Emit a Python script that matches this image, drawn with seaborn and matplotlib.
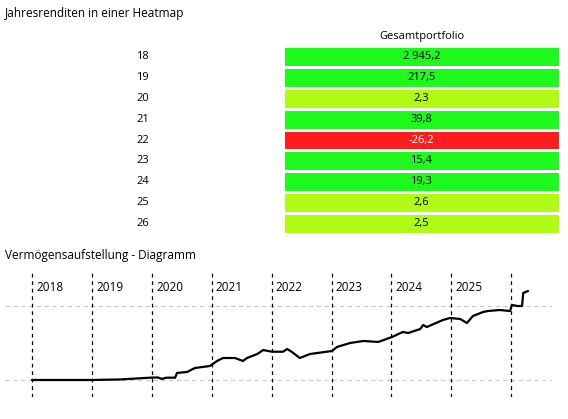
import seaborn as sns
import matplotlib.pyplot as plt
import pandas as pd
import numpy as np
from matplotlib.colors import ListedColormap, BoundaryNorm

# Jahresrenditen (Prozent) pro Jahr
jahre_kurz = ["18", "19", "20", "21", "22", "23", "24", "25", "26"]
renditen = [2945.2, 217.5, 2.3, 39.8, -26.2, 15.4, 19.3, 2.6, 2.5]
renditen_text = ["2 945,2", "217,5", "2,3", "39,8", "-26,2", "15,4", "19,3", "2,6", "2,5"]

# Vermögensverlauf (relative Einheiten)
zeit = [2018.00, 2019.00, 2019.47, 2019.97, 2020.10, 2020.17, 2020.24, 2020.39, 2020.42,
        2020.59, 2020.72, 2020.97, 2021.09, 2021.19, 2021.39, 2021.52, 2021.59, 2021.76,
        2021.86, 2021.94, 2022.01, 2022.19, 2022.26, 2022.34, 2022.47, 2022.64, 2023.01,
        2023.09, 2023.31, 2023.53, 2023.78, 2024.01, 2024.19, 2024.28, 2024.48, 2024.53,
        2024.59, 2024.86, 2024.98, 2025.15, 2025.26, 2025.36, 2025.53, 2025.61, 2025.81,
        2025.98, 2026.01, 2026.10, 2026.18, 2026.20, 2026.28]
vermoegen = [0, 0, 0.7, 3.1, 3.4, 1.4, 3.1, 3.1, 9.5,
             10.8, 16.2, 18.9, 25.7, 29.7, 29.7, 25.7, 29.7, 35.1,
             40.5, 39.2, 38.2, 38.2, 41.9, 37.8, 29.7, 35.1, 39.2,
             44.6, 50.0, 52.7, 51.4, 58.1, 64.9, 63.5, 68.9, 74.3,
             71.6, 81.1, 83.8, 82.4, 77.0, 86.5, 91.9, 93.2, 94.6,
             93.2, 101.4, 100.0, 100.0, 117.6, 120.3]
jahre = [2018, 2019, 2020, 2021, 2022, 2023, 2024, 2025, 2026]
jahre_label = ["2018", "2019", "2020", "2021", "2022", "2023", "2024", "2025"]

sns.set_style("white")
plt.rcParams["font.family"] = ["Open Sans", "DejaVu Sans"]
plt.rcParams["text.color"] = "black"

fig = plt.figure(figsize=(5.68, 4.19), dpi=100)

# Heatmap
df = pd.DataFrame({"Gesamtportfolio": renditen}, index=jahre_kurz)
labels = np.array(renditen_text).reshape(-1, 1)
cmap = ListedColormap(["#fa1e1e", "#b0fa16", "#1efa1e"])
norm = BoundaryNorm([-1e6, 0, 10, 1e6], cmap.N)

ax1 = fig.add_axes([0.498, 0.4415, 0.488, 0.4487])
sns.heatmap(df, ax=ax1, cmap=cmap, norm=norm, cbar=False, annot=labels, fmt="",
            linewidths=0.8, linecolor="white", annot_kws={"fontsize": 8})
for t in ax1.texts:
    if t.get_color() != "w":
        t.set_color("black")
ax1.xaxis.tick_top()
ax1.tick_params(axis="both", length=0, labelsize=8, labelcolor="black")
ax1.tick_params(axis="x", pad=3)
ax1.tick_params(axis="y", pad=101)
for t in ax1.get_yticklabels():
    t.set_rotation(0)
    t.set_ha("center")

fig.text(5 / 568, 1 - 14 / 419, "Jahresrenditen in einer Heatmap", fontsize=8.5, va="center")
fig.text(5 / 568, 1 - 255 / 419, "Vermögensaufstellung - Diagramm", fontsize=8.5, va="center")

# Linienchart
ax2 = fig.add_axes([5 / 568, 1 - 397 / 419, 547 / 568, 124 / 419])
sns.lineplot(x=zeit, y=vermoegen, ax=ax2, color="black", linewidth=1.6)
ax2.set_xlim(2017.55, 2026.68)
ax2.set_ylim(-23, 144.6)
ax2.set_yticks([0, 100])
ax2.set_xticks([])
ax2.set_yticklabels([])
ax2.tick_params(axis="y", length=0)
ax2.grid(axis="y", color="#c8c8c8", linestyle=(0, (4, 3)), linewidth=0.8)
for s in ax2.spines.values():
    s.set_visible(False)
for j in jahre:
    ax2.axvline(j, color="black", linestyle=(0, (3, 3)), linewidth=0.9)
for j, lab in zip(jahre, jahre_label):
    ax2.annotate(lab, (j, 0.887), xycoords=("data", "axes fraction"),
                 xytext=(3, 0), textcoords="offset points", va="center", fontsize=8.5)

fig.savefig("out.png", dpi=100)
